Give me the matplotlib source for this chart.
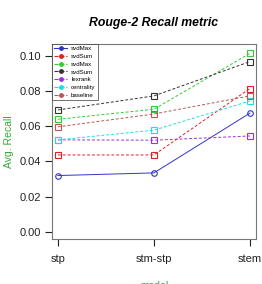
import matplotlib
matplotlib.use('Agg')
import matplotlib.pyplot as plt

# Data
models = ['stp', 'stm-stp', 'stem']
series_names = ['svdMax', 'svdSum', 'svdMax', 'svdSum', 'lexrank', 'centrality', 'baseline']
svdmax_blue = [0.032, 0.0335, 0.0675]
svdsum_red = [0.0437, 0.0437, 0.0815]
svdmax_green = [0.064, 0.0697, 0.1015]
svdsum_black = [0.0693, 0.0773, 0.0968]
lexrank = [0.0523, 0.0521, 0.0545]
centrality = [0.0523, 0.0578, 0.0744]
baseline = [0.0597, 0.067, 0.0773]

series = [svdmax_blue, svdsum_red, svdmax_green, svdsum_black, lexrank, centrality, baseline]
colors = ['#3333cc', '#dd2222', '#33cc33', '#333333', '#9933dd', '#22dddd', '#bb5555']
styles = ['-', '--', '--', '--', '--', '--', '--']
markers = ['o', 's', 's', 's', 's', 's', 's']

plt.rcParams['font.family'] = 'Liberation Sans'

fig = plt.figure(figsize=(2.62, 2.84), dpi=100)
ax = fig.add_axes([0.198, 0.159, 0.779, 0.686])

x = range(len(models))
handles = []
for vals, name, c, ls, m in zip(series, series_names, colors, styles, markers):
    ax.plot(x, vals, linestyle=ls, color=c, linewidth=0.7, marker=m, markersize=4,
            markerfacecolor='none', markeredgecolor=c, markeredgewidth=0.8,
            dashes=(3, 2) if ls == '--' else (None, None))
    h, = ax.plot([], [], linestyle=ls, color=c, linewidth=0.8, marker='o', markersize=2.5)
    handles.append(h)

ax.set_xlim(-0.063, 2.063)
ax.set_ylim(-0.004, 0.1068)
ax.set_xticks(list(x))
ax.set_xticklabels(models)
ax.set_yticks([0.0, 0.02, 0.04, 0.06, 0.08, 0.10])
ax.set_yticklabels(['0.00', '0.02', '0.04', '0.06', '0.08', '0.10'])
ax.tick_params(direction='out', length=5, width=0.8, labelsize=8, colors='#222222', pad=3)
ax.tick_params(axis='x', pad=6)
for s in ax.spines.values():
    s.set_color('#777777')
    s.set_linewidth(0.8)

ax.set_title('Rouge-2 Recall metric', fontsize=8.8, fontweight='bold', style='italic', pad=13)
ax.set_ylabel('Avg. Recall', color='#33aa33', fontsize=7.5, labelpad=4)
ax.set_xlabel('model', color='#33aa33', fontsize=7.5, labelpad=12)

leg = ax.legend(handles, series_names, loc='upper left', fontsize=4.4, frameon=True,
                fancybox=False, borderpad=0.35, labelspacing=0.4, handlelength=2.2,
                handletextpad=0.6, borderaxespad=0.0)
leg.get_frame().set_edgecolor('#333333')
leg.get_frame().set_linewidth(0.6)

fig.savefig('out.png', dpi=100)
